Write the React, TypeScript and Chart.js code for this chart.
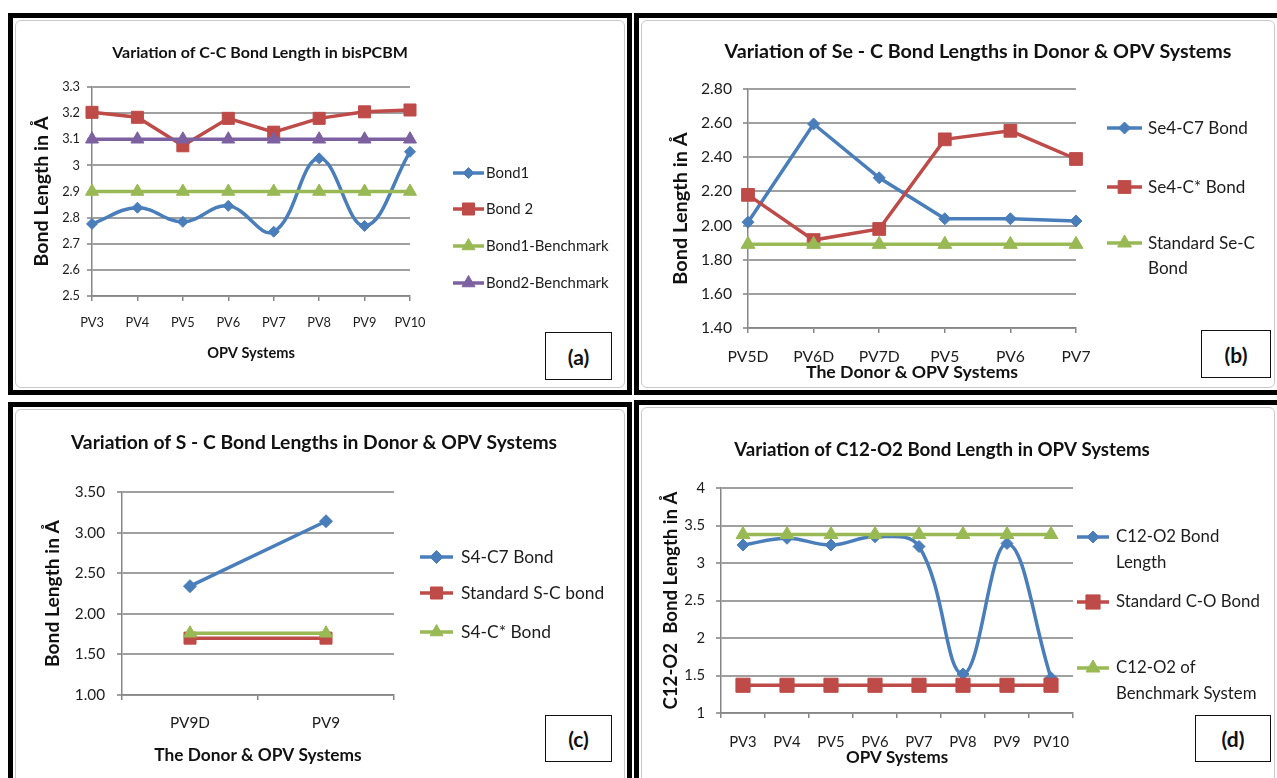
import React, { useEffect, useRef } from "react";
import { Chart, registerables } from "chart.js";

Chart.register(...registerables);

const FONT = 'Lato, "Open Sans", "DejaVu Sans", sans-serif';
const TEXT = "#1c1c1c";
const GRID = "#a0a0a0";
const AXIS = "#868686";
const BLUE = "#4A7EBB";
const RED = "#BE4B48";
const GREEN = "#98B954";
const PURPLE = "#7D60A0";

// ---------- Panel (a) ----------
const aCategories = ["PV3", "PV4", "PV5", "PV6", "PV7", "PV8", "PV9", "PV10"];
const aBond1 = [2.776, 2.838, 2.784, 2.845, 2.746, 3.027, 2.768, 3.052];
const aBond2 = [3.203, 3.184, 3.075, 3.18, 3.127, 3.18, 3.205, 3.212];
const aBond1Benchmark = [2.9, 2.9, 2.9, 2.9, 2.9, 2.9, 2.9, 2.9];
const aBond2Benchmark = [3.1, 3.1, 3.1, 3.1, 3.1, 3.1, 3.1, 3.1];
const aSeriesNames = [["Bond1"], ["Bond 2"], ["Bond1-Benchmark"], ["Bond2-Benchmark"]];
const aYTickLabels = ["2.5", "2.6", "2.7", "2.8", "2.9", "3", "3.1", "3.2", "3.3"];
const aTitle = "Variation of C-C Bond Length in bisPCBM";
const aXTitle = "OPV Systems";
const aYTitle = "Bond Length in Å";
const aTag = "(a)";

// ---------- Panel (b) ----------
const bCategories = ["PV5D", "PV6D", "PV7D", "PV5", "PV6", "PV7"];
const bSe4C7 = [2.02, 2.595, 2.28, 2.04, 2.04, 2.027];
const bSe4Cstar = [2.18, 1.915, 1.98, 2.505, 2.555, 2.39];
const bStandardSeC = [1.89, 1.89, 1.89, 1.89, 1.89, 1.89];
const bSeriesNames = [["Se4-C7 Bond"], ["Se4-C* Bond"], ["Standard Se-C", "Bond"]];
const bYTickLabels = ["1.40", "1.60", "1.80", "2.00", "2.20", "2.40", "2.60", "2.80"];
const bTitle = "Variation of Se - C Bond Lengths in Donor & OPV Systems";
const bXTitle = "The Donor & OPV Systems";
const bYTitle = "Bond Length in Å";
const bTag = "(b)";

// ---------- Panel (c) ----------
const cCategories = ["PV9D", "PV9"];
const cS4C7 = [2.34, 3.14];
const cStandardSC = [1.7, 1.7];
const cS4Cstar = [1.76, 1.76];
const cSeriesNames = [["S4-C7 Bond"], ["Standard S-C bond"], ["S4-C* Bond"]];
const cYTickLabels = ["1.00", "1.50", "2.00", "2.50", "3.00", "3.50"];
const cTitle = "Variation of S - C Bond Lengths in Donor & OPV Systems";
const cXTitle = "The Donor & OPV Systems";
const cYTitle = "Bond Length in Å";
const cTag = "(c)";

// ---------- Panel (d) ----------
const dCategories = ["PV3", "PV4", "PV5", "PV6", "PV7", "PV8", "PV9", "PV10"];
const dC12O2 = [3.24, 3.33, 3.24, 3.35, 3.22, 1.52, 3.26, 1.47];
const dStandardCO = [1.37, 1.37, 1.37, 1.37, 1.37, 1.37, 1.37, 1.37];
const dBenchmark = [3.38, 3.38, 3.38, 3.38, 3.38, 3.38, 3.38, 3.38];
const dSeriesNames = [["C12-O2 Bond", "Length"], ["Standard C-O Bond"], ["C12-O2 of", "Benchmark System"]];
const dYTickLabels = ["1", "1.5", "2", "2.5", "3", "3.5", "4"];
const dTitle = "Variation of C12-O2 Bond Length in OPV Systems";
const dXTitle = "OPV Systems";
const dYTitle = "C12-O2  Bond Length in Å";
const dTag = "(d)";

const measureCanvas = typeof document !== "undefined" ? document.createElement("canvas") : null;
function fitSize(text: string, width: number, weight: string) {
  const ctx = measureCanvas!.getContext("2d")!;
  ctx.font = `${weight} 100px ${FONT}`;
  const w = ctx.measureText(text).width;
  return Math.round((1000 * width) / w) / 10;
}

function drawMarker(ctx: CanvasRenderingContext2D, style: string, x: number, y: number, r: number, color: string) {
  ctx.save();
  ctx.beginPath();
  if (style === "rectRot") {
    ctx.moveTo(x - r, y);
    ctx.lineTo(x, y - r);
    ctx.lineTo(x + r, y);
    ctx.lineTo(x, y + r);
    ctx.closePath();
  } else if (style === "rect") {
    const s = r * Math.SQRT1_2;
    ctx.rect(x - s, y - s, 2 * s, 2 * s);
  } else {
    ctx.moveTo(x, y - r);
    ctx.lineTo(x + 0.866 * r, y + 0.5 * r);
    ctx.lineTo(x - 0.866 * r, y + 0.5 * r);
    ctx.closePath();
  }
  ctx.fillStyle = color;
  ctx.fill();
  ctx.lineWidth = 1;
  ctx.strokeStyle = color;
  ctx.stroke();
  ctx.restore();
}

type Series = { name: string[]; data: number[]; color: string; marker: string; radius: number; tension: number };
type Spec = {
  id: string;
  panel: { left: number; top: number; width: number; height: number; bw: [number, number, number, number] };
  canvasW: number;
  canvasH: number;
  area: { l: number; r: number; t: number; b: number };
  categories: string[];
  series: Series[];
  yMin: number;
  yMax: number;
  yStep: number;
  yTickLabels: string[];
  offset: boolean;
  title: string;
  titleX: number;
  titleY: number;
  titleWidth: number;
  xTitle: string;
  xTitleWidth: number;
  xTitleY: number;
  yTitle: string;
  yTitleWidth: number;
  yTitleX: number;
  tickSample: string;
  tickSampleWidth: number;
  xLabelY: number;
  yLabelRight: number;
  legend: { x1: number; x2: number; textX: number; rows: number[]; sample: string; sampleWidth: number; lineGap: number };
  lineWidth: number;
  tag: string;
  tagBox: { left: number; top: number; width: number; height: number };
};

const specs: Spec[] = [
  {
    id: "a",
    panel: { left: 8, top: 13, width: 624, height: 382, bw: [5, 5, 5, 5] },
    canvasW: 614,
    canvasH: 372,
    area: { l: 79, r: 397, t: 69, b: 278 },
    categories: aCategories,
    series: [
      { name: aSeriesNames[0], data: aBond1, color: BLUE, marker: "rectRot", radius: 5.5, tension: 0.4 },
      { name: aSeriesNames[1], data: aBond2, color: RED, marker: "rect", radius: 8.5, tension: 0 },
      { name: aSeriesNames[2], data: aBond1Benchmark, color: GREEN, marker: "triangle", radius: 7.5, tension: 0 },
      { name: aSeriesNames[3], data: aBond2Benchmark, color: PURPLE, marker: "triangle", radius: 7.5, tension: 0 },
    ],
    yMin: 2.5,
    yMax: 3.3,
    yStep: 0.1,
    yTickLabels: aYTickLabels,
    offset: false,
    title: aTitle,
    titleX: 247,
    titleY: 35,
    titleWidth: 296,
    xTitle: aXTitle,
    xTitleWidth: 88,
    xTitleY: 335,
    yTitle: aYTitle,
    yTitleWidth: 150,
    yTitleX: 29,
    tickSample: "PV10",
    tickSampleWidth: 31,
    xLabelY: 305,
    yLabelRight: 67,
    legend: { x1: 440, x2: 471, textX: 473, rows: [155, 191, 228, 265], sample: "Bond1-Benchmark", sampleWidth: 123, lineGap: 25 },
    lineWidth: 3.5,
    tag: aTag,
    tagBox: { left: 545, top: 332, width: 67, height: 48 },
  },
  {
    id: "b",
    panel: { left: 634, top: 13, width: 643, height: 382, bw: [5, 0, 5, 5] },
    canvasW: 638,
    canvasH: 372,
    area: { l: 109, r: 437, t: 71, b: 310 },
    categories: bCategories,
    series: [
      { name: bSeriesNames[0], data: bSe4C7, color: BLUE, marker: "rectRot", radius: 6, tension: 0 },
      { name: bSeriesNames[1], data: bSe4Cstar, color: RED, marker: "rect", radius: 9, tension: 0 },
      { name: bSeriesNames[2], data: bStandardSeC, color: GREEN, marker: "triangle", radius: 8, tension: 0 },
    ],
    yMin: 1.4,
    yMax: 2.8,
    yStep: 0.2,
    yTickLabels: bYTickLabels,
    offset: false,
    title: bTitle,
    titleX: 339,
    titleY: 34,
    titleWidth: 508,
    xTitle: bXTitle,
    xTitleWidth: 212,
    xTitleY: 354,
    yTitle: bYTitle,
    yTitleWidth: 152,
    yTitleX: 42,
    tickSample: "PV5D",
    tickSampleWidth: 41,
    xLabelY: 339,
    yLabelRight: 93,
    legend: { x1: 468, x2: 503, textX: 509, rows: [110, 169, 225], sample: "Se4-C7 Bond", sampleWidth: 100, lineGap: 25 },
    lineWidth: 3.5,
    tag: bTag,
    tagBox: { left: 1201, top: 330, width: 70, height: 48 },
  },
  {
    id: "c",
    panel: { left: 8, top: 402, width: 624, height: 390, bw: [5, 5, 0, 5] },
    canvasW: 614,
    canvasH: 371,
    area: { l: 109, r: 381, t: 85, b: 288 },
    categories: cCategories,
    series: [
      { name: cSeriesNames[0], data: cS4C7, color: BLUE, marker: "rectRot", radius: 6.5, tension: 0 },
      { name: cSeriesNames[1], data: cStandardSC, color: RED, marker: "rect", radius: 8.5, tension: 0 },
      { name: cSeriesNames[2], data: cS4Cstar, color: GREEN, marker: "triangle", radius: 7.5, tension: 0 },
    ],
    yMin: 1,
    yMax: 3.5,
    yStep: 0.5,
    yTickLabels: cYTickLabels,
    offset: true,
    title: cTitle,
    titleX: 301,
    titleY: 36,
    titleWidth: 486,
    xTitle: cXTitle,
    xTitleWidth: 208,
    xTitleY: 348,
    yTitle: cYTitle,
    yTitleWidth: 147,
    yTitleX: 40,
    tickSample: "PV9D",
    tickSampleWidth: 40,
    xLabelY: 316,
    yLabelRight: 92,
    legend: { x1: 407, x2: 440, textX: 448, rows: [150, 186, 225], sample: "Standard S-C bond", sampleWidth: 143, lineGap: 25 },
    lineWidth: 3.5,
    tag: cTag,
    tagBox: { left: 545, top: 715, width: 67, height: 47 },
  },
  {
    id: "d",
    panel: { left: 634, top: 400, width: 643, height: 390, bw: [5, 0, 0, 5] },
    canvasW: 638,
    canvasH: 373,
    area: { l: 82, r: 434, t: 83, b: 308 },
    categories: dCategories,
    series: [
      { name: dSeriesNames[0], data: dC12O2, color: BLUE, marker: "rectRot", radius: 6, tension: 0.4 },
      { name: dSeriesNames[1], data: dStandardCO, color: RED, marker: "rect", radius: 10, tension: 0 },
      { name: dSeriesNames[2], data: dBenchmark, color: GREEN, marker: "triangle", radius: 8, tension: 0 },
    ],
    yMin: 1,
    yMax: 4,
    yStep: 0.5,
    yTickLabels: dYTickLabels,
    offset: true,
    title: dTitle,
    titleX: 303,
    titleY: 45,
    titleWidth: 416,
    xTitle: dXTitle,
    xTitleWidth: 102,
    xTitleY: 353,
    yTitle: dYTitle,
    yTitleWidth: 218,
    yTitleX: 32,
    tickSample: "PV10",
    tickSampleWidth: 36,
    xLabelY: 337,
    yLabelRight: 66,
    legend: { x1: 438, x2: 470, textX: 477, rows: [132, 197, 263], sample: "Standard C-O Bond", sampleWidth: 144, lineGap: 26 },
    lineWidth: 3.5,
    tag: dTag,
    tagBox: { left: 1195, top: 715, width: 76, height: 47 },
  },
];

function buildChart(canvas: HTMLCanvasElement, s: Spec) {
  const TL = 5;
  const tickSize = fitSize(s.tickSample, s.tickSampleWidth, "normal");
  const xtSize = fitSize(s.xTitle, s.xTitleWidth, "bold");
  const ytSize = fitSize(s.yTitle, s.yTitleWidth, "bold");
  const titleSize = fitSize(s.title, s.titleWidth, "bold");
  const legSize = fitSize(s.legend.sample, s.legend.sampleWidth, "normal");
  const tickLH = tickSize * 1.2;
  const xtLH = xtSize * 1.2;
  const ytLH = ytSize * 1.2;

  const overlay = {
    id: "overlay" + s.id,
    afterDraw(chart: any) {
      const ctx: CanvasRenderingContext2D = chart.ctx;
      ctx.save();
      ctx.fillStyle = "#111";
      ctx.textBaseline = "middle";
      ctx.textAlign = "center";
      ctx.font = `bold ${titleSize}px ${FONT}`;
      ctx.fillText(s.title, s.titleX, s.titleY);
      ctx.textAlign = "left";
      ctx.font = `${legSize}px ${FONT}`;
      s.series.forEach((ser, i) => {
        const y = s.legend.rows[i];
        ctx.strokeStyle = ser.color;
        ctx.lineWidth = s.lineWidth;
        ctx.beginPath();
        ctx.moveTo(s.legend.x1, y);
        ctx.lineTo(s.legend.x2, y);
        ctx.stroke();
        drawMarker(ctx, ser.marker, (s.legend.x1 + s.legend.x2) / 2, y, ser.radius, ser.color);
        ctx.fillStyle = TEXT;
        ser.name.forEach((line, j) => ctx.fillText(line, s.legend.textX, y + j * s.legend.lineGap));
      });
      ctx.restore();
    },
  };

  return new Chart(canvas, {
    type: "line",
    data: {
      labels: s.categories,
      datasets: s.series.map((ser, i) => ({
        label: ser.name.join(" "),
        data: ser.data,
        borderColor: ser.color,
        backgroundColor: ser.color,
        borderWidth: s.lineWidth,
        pointStyle: ser.marker as any,
        pointRadius: ser.radius,
        pointHoverRadius: ser.radius,
        pointBackgroundColor: ser.color,
        pointBorderColor: ser.color,
        pointBorderWidth: 1,
        tension: ser.tension,
        fill: false,
        clip: false as any,
        order: s.series.length - i,
      })),
    },
    options: {
      animation: false,
      responsive: false,
      maintainAspectRatio: false,
      events: [],
      layout: { padding: { left: 0, top: s.area.t, right: s.canvasW - s.area.r, bottom: 0 } },
      plugins: { legend: { display: false }, title: { display: false }, tooltip: { enabled: false } },
      scales: {
        x: {
          type: "category",
          offset: s.offset,
          grid: { display: true, drawOnChartArea: false, drawTicks: true, tickLength: TL, color: AXIS, lineWidth: 1.5, offset: s.offset },
          border: { display: true, color: AXIS, width: 1.5 },
          ticks: {
            font: { family: FONT, size: tickSize },
            color: TEXT,
            padding: s.xLabelY - s.area.b - TL - tickLH / 2,
            maxRotation: 0,
            minRotation: 0,
            autoSkip: false,
          },
          title: {
            display: true,
            text: s.xTitle,
            font: { family: FONT, size: xtSize, weight: "bold" },
            color: "#111",
            padding: { top: 0, bottom: Math.max(0, s.canvasH - xtLH / 2 - s.xTitleY) },
          },
          afterFit: (scale: any) => {
            scale.height = s.canvasH - s.area.b;
          },
        },
        y: {
          type: "linear",
          min: s.yMin,
          max: s.yMax,
          ticks: {
            stepSize: s.yStep,
            font: { family: FONT, size: tickSize },
            color: TEXT,
            padding: s.area.l - TL - s.yLabelRight,
            callback: (v: any) => s.yTickLabels[Math.round((Number(v) - s.yMin) / s.yStep)] ?? "",
          },
          grid: { color: GRID, lineWidth: 2, tickLength: TL, drawTicks: true },
          border: { display: true, color: AXIS, width: 1.5 },
          title: {
            display: true,
            text: s.yTitle,
            font: { family: FONT, size: ytSize, weight: "bold" },
            color: "#111",
            padding: { top: Math.max(0, s.yTitleX - ytLH / 2), bottom: 0 },
          },
          afterFit: (scale: any) => {
            scale.width = s.area.l;
          },
        },
      },
    } as any,
    plugins: [overlay],
  });
}

function Panel({ s }: { s: Spec }) {
  const ref = useRef<HTMLCanvasElement>(null);
  useEffect(() => {
    const chart = buildChart(ref.current!, s);
    return () => chart.destroy();
  }, [s]);
  const [bt, br, bb, bl] = s.panel.bw;
  return (
    <div
      style={{
        position: "absolute",
        left: s.panel.left,
        top: s.panel.top,
        width: s.panel.width,
        height: s.panel.height,
        boxSizing: "border-box",
        borderStyle: "solid",
        borderColor: "#000",
        borderWidth: `${bt}px ${br}px ${bb}px ${bl}px`,
        background: "#fff",
      }}
    >
      <div
        style={{
          position: "absolute",
          left: 2,
          top: 2,
          right: 2,
          bottom: 2,
          border: "1.5px solid #c9c9c9",
          borderRadius: 6,
        }}
      />
      <canvas
        ref={ref}
        width={s.canvasW}
        height={s.canvasH}
        style={{ position: "absolute", left: 0, top: 0, width: s.canvasW, height: s.canvasH }}
      />
    </div>
  );
}

export default function App() {
  return (
    <div
      style={{
        position: "absolute",
        left: 0,
        top: 0,
        width: 1277,
        height: 778,
        overflow: "hidden",
        background: "#fff",
        fontFamily: FONT,
      }}
    >
      {specs.map((s) => (
        <Panel key={s.id} s={s} />
      ))}
      {specs.map((s) => (
        <div
          key={"tag" + s.id}
          style={{
            position: "absolute",
            left: s.tagBox.left,
            top: s.tagBox.top,
            width: s.tagBox.width,
            height: s.tagBox.height,
            boxSizing: "border-box",
            border: "1.5px solid #111",
            background: "#fff",
            display: "flex",
            alignItems: "center",
            justifyContent: "center",
            font: `bold 21px ${FONT}`,
            color: "#111",
          }}
        >
          {s.tag}
        </div>
      ))}
    </div>
  );
}
